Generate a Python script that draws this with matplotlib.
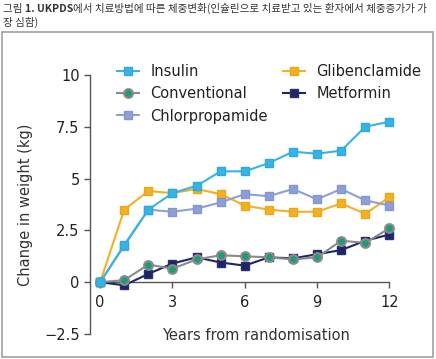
import numpy as np
import matplotlib.pyplot as plt
from matplotlib.patches import Rectangle

years = list(range(13))

insulin = [0, 1.8, 3.5, 4.3, 4.65, 5.35, 5.35, 5.75, 6.3, 6.2, 6.35, 7.5, 7.75]
glibenclamide = [0, 3.5, 4.4, 4.3, 4.5, 4.25, 3.7, 3.5, 3.4, 3.4, 3.8, 3.3, 4.1]
chlorpropamide = [0, 1.75, 3.5, 3.4, 3.55, 3.85, 4.25, 4.15, 4.5, 4.0, 4.5, 3.95, 3.7]
conventional = [0, 0.1, 0.85, 0.65, 1.1, 1.3, 1.25, 1.2, 1.1, 1.2, 2.0, 1.9, 2.6]
metformin = [0, -0.15, 0.4, 0.9, 1.2, 0.95, 0.8, 1.2, 1.15, 1.35, 1.55, 2.0, 2.3]

x_ticks = [0, 3, 6, 9, 12]
y_ticks = [-2.5, 0, 2.5, 5, 7.5, 10]
y_tick_labels = ["\u22122.5", "0", "2.5", "5", "7.5", "10"]

caption_1 = "그림 "
caption_bold = "1. UKPDS"
caption_2 = "에서 치료방법에 따른 체중변화(인슐린으로 치료받고 있는 환자에서 체중증가가 가"
caption_3 = "장 심함)"

W, H = 436, 359
fig = plt.figure(figsize=(W / 100, H / 100), dpi=100)
ax = fig.add_axes([90 / W, 25 / H, (399 - 90) / W, (334 - 75) / H])

# caption above the chart box
kfont = ["Noto Sans CJK KR", "DejaVu Sans"]
cs = 7.6
t1 = fig.text(3 / W, 1 - 12 / H, caption_1, fontsize=cs, family=kfont, color="#333333")
t2 = ax.annotate(caption_bold, xy=(1, 0), xycoords=t1, va="bottom", fontsize=cs,
                 family=kfont, weight="bold", color="#333333", annotation_clip=False)
t3 = ax.annotate(caption_2, xy=(1, 0), xycoords=t2, va="bottom", fontsize=cs,
                 family=kfont, color="#333333", annotation_clip=False)
fig.text(3 / W, 1 - 26 / H, caption_3, fontsize=cs, family=kfont, color="#333333")

fig.patches.append(Rectangle((2 / W, 2 / H), 431 / W, (357 - 32) / H, transform=fig.transFigure,
                             fill=False, edgecolor="#a0a0a0", linewidth=1.2))

ms = 6.3
lw = 1.5
ax.plot(years, metformin, color="#1f2468", marker="s", ms=ms, mec="#2a3070", lw=lw, label="Metformin", zorder=3)
ax.plot(years, conventional, color="#8a8a8a", marker="o", ms=ms, mfc="#1a9e78", mec="#8a8a8a",
        mew=1.5, lw=lw, label="Conventional", zorder=4)
ax.plot(years, glibenclamide, color="#f4b021", marker="s", ms=ms, mec="#e8a818", lw=lw, label="Glibenclamide", zorder=3)
ax.plot(years, chlorpropamide, color="#8d9fd7", marker="s", ms=ms, mec="#8596d0", lw=lw, label="Chlorpropamide", zorder=3)
ax.plot(years, insulin, color="#37b4e6", marker="s", ms=ms, mec="#2fa8dc", lw=lw, label="Insulin", zorder=5)

ax.set_xlim(-0.42, 12.4)
ax.set_ylim(-2.5, 10)
ax.set_xticks(x_ticks)
ax.set_yticks(y_ticks)
ax.set_yticklabels(y_tick_labels)

for s in ["top", "right"]:
    ax.spines[s].set_visible(False)
ax.spines["bottom"].set_position(("data", 0))
ax.spines["bottom"].set_bounds(0, 12)
ax.spines["left"].set_bounds(-2.5, 10)
for s in ["bottom", "left"]:
    ax.spines[s].set_color("#555555")
    ax.spines[s].set_linewidth(1.0)

ax.tick_params(axis="both", labelsize=10.5, colors="#555555", labelcolor="#222222", length=4, width=1.0)
ax.tick_params(axis="x", pad=5)

ax.text(6.45, -2.55, "Years from randomisation", ha="center", va="center", fontsize=10.5, color="#333333")
ax.set_ylabel("Change in weight (kg)", fontsize=10.5, color="#333333", labelpad=8)

h, l = ax.get_legend_handles_labels()
order = ["Insulin", "Conventional", "Chlorpropamide", "Glibenclamide", "Metformin"]
hh = [h[l.index(o)] for o in order]
ax.legend(hh, order, loc="upper left", bbox_to_anchor=(117 / W, 1 - 64 / H), bbox_transform=fig.transFigure,
          ncol=2, frameon=False, fontsize=10.5, handlelength=1.5, handletextpad=0.8, columnspacing=1.0,
          labelspacing=0.5, borderpad=0, borderaxespad=0, labelcolor="#222222")

fig.savefig("out.png", dpi=100)
